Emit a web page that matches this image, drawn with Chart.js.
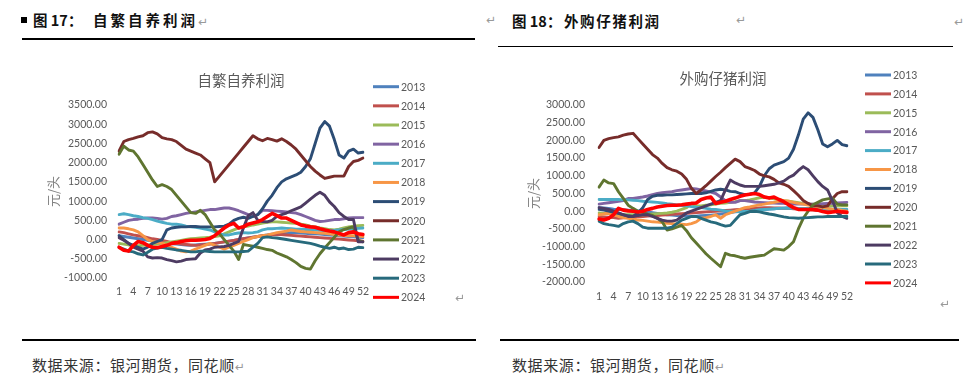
<!DOCTYPE html>
<html>
<head>
<meta charset="utf-8">
<script src="https://cdn.jsdelivr.net/npm/chart.js@4.4.0/dist/chart.umd.min.js"></script>
<style>
  body { margin:0; width:975px; height:389px; background:#fff; position:relative; overflow:hidden;
         font-family:"Noto Sans CJK SC", sans-serif; }
  .abs { position:absolute; white-space:nowrap; line-height:1; }
  .head { font-weight:bold; font-size:14.5px; color:#111; }
  .rule { position:absolute; height:1.5px; background:#000; }
  .mark { color:#999; font-family:"DejaVu Sans", sans-serif; font-size:12px; font-weight:normal; }
  .src { font-size:15px; color:#333; letter-spacing:0.6px; }
  canvas { position:absolute; }
</style>
</head>
<body>
<!-- headings -->
<div class="abs" style="left:21px;top:17px;width:6px;height:6px;background:#000"></div>
<div class="abs head" style="left:33px;top:13px">图 17：</div>
<div class="abs head" style="left:93px;top:13px;letter-spacing:3px">自繁自养利润<span class="mark" style="letter-spacing:0">↵</span></div>
<div class="abs mark" style="left:486px;top:14px">↵</div>
<div class="abs head" style="left:512px;top:14px">图 18：</div>
<div class="abs head" style="left:564px;top:14px;letter-spacing:1.6px">外购仔猪利润</div>
<div class="abs mark" style="left:736px;top:14px">↵</div>
<div class="abs mark" style="left:954px;top:16px">↵</div>
<div class="rule" style="left:22px;top:38px;width:453px"></div>
<div class="rule" style="left:498px;top:45.5px;width:455px"></div>

<canvas id="selfChart" width="440" height="255" style="left:40px;top:55px;width:440px;height:255px"></canvas>
<canvas id="boughtChart" width="450" height="255" style="left:520px;top:55px;width:450px;height:255px"></canvas>

<div class="abs mark" style="left:455px;top:292px">↵</div>
<div class="abs mark" style="left:940px;top:298px">↵</div>
<div class="rule" style="left:22px;top:339px;width:454px"></div>
<div class="rule" style="left:500px;top:339px;width:459px"></div>
<div class="abs src" style="left:32px;top:357px">数据来源：银河期货，同花顺<span class="mark">↵</span></div>
<div class="abs src" style="left:512px;top:357px">数据来源：银河期货，同花顺<span class="mark">↵</span></div>

<script>
// --- DATA ---
const weeks = Array.from({length: 52}, (_, i) => String(i + 1));
const years = ['2013','2014','2015','2016','2017','2018','2019','2020','2021','2022','2023','2024'];

// 自繁自养利润 (元/头)
const self2013 = [100,80,60,40,20,0,-20,-40,-60,-80,
  -100,-110,-120,-130,-140,-150,-140,-130,-120,-110,
  -100,-80,-60,-40,-20,0,20,40,60,80,
  100,120,140,150,160,170,180,180,170,160,
  150,150,140,130,120,110,100,90,80,70,
  60,50];
const self2014 = [200,180,150,120,100,80,50,20,0,-20,
  -50,-80,-100,-120,-130,-140,-150,-140,-130,-120,
  -100,-80,-60,-40,-20,0,20,40,60,80,
  100,110,120,130,130,120,110,100,90,80,
  70,60,50,40,30,20,10,0,-10,-20,
  -30,-40];
const self2015 = [-100,-120,-140,-150,-160,-150,-140,-130,-120,-100,
  -80,-60,-40,-20,0,20,30,40,50,60,
  80,100,150,200,250,300,330,350,380,400,
  430,450,460,460,450,440,430,420,400,380,
  350,330,300,280,260,250,270,300,330,350,
  360,370];
const self2016 = [400,450,500,520,530,550,560,560,550,530,
  550,600,620,650,680,700,720,740,760,780,
  780,800,820,820,790,750,700,650,600,650,
  760,760,750,740,730,720,700,690,650,600,
  550,500,470,480,500,520,520,540,560,570,
  570,570];
const self2017 = [650,670,650,620,600,570,550,520,480,450,
  420,400,400,380,350,330,320,300,270,250,
  200,150,120,120,150,170,180,170,180,200,
  250,280,280,290,300,290,280,270,270,260,
  250,250,240,230,230,240,250,260,270,280,
  290,300];
const self2018 = [300,300,280,250,200,100,0,-50,-80,-100,
  -150,-200,-250,-300,-320,-300,-250,-200,-150,-100,
  -150,-200,-250,-200,-150,-100,-50,0,50,80,
  100,120,150,180,200,220,250,230,210,200,
  190,180,170,160,150,130,120,110,100,100,
  90,80];
const self2019 = [100,0,-100,-150,-200,-250,-200,-100,-50,0,
  250,300,320,330,330,340,340,330,330,330,
  330,340,350,400,500,550,580,550,600,650,
  800,1000,1150,1350,1500,1580,1630,1680,1750,1900,
  2100,2500,2900,3070,2950,2600,2200,2120,2300,2350,
  2250,2270];
const self2020 = [2300,2550,2600,2630,2670,2700,2780,2800,2750,2650,
  2620,2600,2550,2450,2350,2300,2250,2200,2100,2000,
  1500,1650,1800,1950,2100,2250,2400,2550,2700,2620,
  2570,2630,2600,2560,2620,2550,2460,2350,2200,2050,
  1900,1780,1680,1590,1620,1650,1650,1650,1900,2030,
  2060,2120];
const self2021 = [2220,2430,2330,2300,2150,1950,1750,1550,1380,1430,
  1380,1300,1150,1000,850,700,680,760,650,450,
  250,150,0,-150,-300,-520,-130,-150,-170,-200,
  -230,-260,-280,-350,-400,-450,-520,-600,-700,-750,
  -770,-550,-370,-220,-80,60,200,260,300,330,
  -20,-60];
const self2022 = [50,-20,-100,-200,-250,-300,-450,-480,-470,-480,
  -520,-550,-580,-560,-520,-510,-500,-350,-270,-250,
  -200,-190,-180,-150,-100,-50,300,620,700,500,
  470,460,500,600,650,690,750,800,850,950,
  1050,1150,1230,1150,980,860,700,600,520,520,
  -60,-60];
const self2023 = [-200,-250,-300,-320,-370,-400,-330,-250,-220,-200,
  -230,-250,-270,-280,-300,-320,-320,-300,-300,-310,
  -320,-320,-320,-320,-320,-320,-310,-300,-200,-100,
  50,70,50,40,20,0,-20,-40,-60,-80,
  -100,-130,-170,-200,-230,-200,-240,-220,-260,-250,
  -200,-210];
const self2024 = [-200,-280,-300,-150,-50,-80,-150,-200,-210,-180,
  -150,-100,-80,-50,-30,-20,-20,-10,0,30,
  100,200,300,380,420,300,330,400,430,460,
  520,600,680,620,560,560,500,440,380,350,
  330,320,280,250,220,200,160,120,180,200,
  150,130];

// 外购仔猪利润 (元/头)
const bought2013 = [100,90,80,60,50,40,30,20,10,0,
  -20,-40,-60,-80,-100,-110,-120,-130,-140,-150,
  -140,-130,-120,-110,-100,-80,-60,-40,-20,0,
  10,20,30,40,50,60,70,80,90,100,
  90,80,70,60,50,40,30,20,10,0,
  0,0];
const bought2014 = [-150,-160,-170,-180,-200,-190,-180,-170,-160,-150,
  -140,-130,-120,-110,-100,-90,-80,-70,-60,-50,
  -40,-30,-20,-10,0,10,20,30,40,50,
  60,70,80,90,100,100,90,90,80,80,
  70,60,50,40,30,20,10,0,-10,-20,
  -40,-50];
const bought2015 = [-50,-60,-70,-80,-100,-100,-100,-100,-100,-100,
  -90,-80,-70,-60,-50,-30,0,50,100,220,
  150,150,170,180,200,220,230,250,270,300,
  300,320,350,380,400,380,350,330,300,280,
  260,240,220,200,200,180,170,160,150,150,
  150,150];
const bought2016 = [200,220,240,260,280,300,360,360,380,400,
  430,470,500,520,540,550,580,600,620,640,
  630,600,570,540,500,400,300,250,250,300,
  300,280,260,250,240,230,230,220,220,210,
  200,200,200,200,200,200,210,220,220,230,
  240,250];
const bought2017 = [330,330,330,330,330,320,320,310,300,280,
  270,260,250,230,210,200,180,160,150,130,
  110,100,80,60,50,30,10,0,-10,-20,
  -10,0,20,40,50,60,70,80,80,80,
  80,80,80,80,80,70,70,70,60,60,
  50,50];
const bought2018 = [-100,-80,-50,-100,-150,-180,-200,-220,-250,-260,
  -280,-300,-310,-320,-340,-350,-360,-370,-380,-350,
  -300,-200,-180,-150,-100,-200,-100,-50,0,50,
  100,120,150,180,200,230,250,280,300,280,
  250,220,200,170,150,120,100,80,60,50,
  20,0];
const bought2019 = [50,30,0,-30,-60,-100,-130,-150,-50,100,
  330,420,450,450,460,460,470,480,490,500,
  500,500,520,560,600,620,600,560,550,500,
  470,480,520,700,1000,1200,1300,1350,1400,1500,
  1750,2150,2600,2780,2650,2300,1900,1820,1900,2000,
  1880,1850];
const bought2020 = [1800,2000,2050,2080,2100,2150,2180,2200,2050,1900,
  1750,1600,1500,1350,1230,1170,1130,1050,900,650,
  500,600,720,850,980,1100,1230,1350,1470,1400,
  1260,1210,1150,1050,1000,970,900,800,760,700,
  580,450,300,220,150,150,120,150,350,500,
  550,550];
const bought2021 = [680,880,800,780,550,360,170,80,0,-30,
  -80,-120,-200,-300,-530,-500,-450,-400,-550,-750,
  -900,-1050,-1200,-1330,-1450,-1570,-1190,-1240,-1260,-1300,
  -1330,-1300,-1280,-1260,-1240,-1150,-1060,-1080,-1100,-1000,
  -860,-500,-200,0,180,250,320,350,370,200,
  180,180];
const bought2022 = [100,80,50,0,-50,-100,-150,-150,-120,-100,
  -100,-150,-200,-250,-280,-280,-250,-150,-50,0,
  50,100,150,200,250,300,600,880,800,740,
  700,700,700,700,720,740,760,800,850,950,
  1020,1150,1260,1170,1000,835,700,600,300,-40,
  -150,-200];
const bought2023 = [-280,-350,-380,-400,-430,-350,-300,-280,-350,-450,
  -480,-480,-480,-480,-480,-450,-350,-250,-200,-150,
  -150,-200,-250,-300,-330,-380,-420,-400,-250,-100,
  -60,-10,0,-20,-50,-80,-100,-130,-160,-180,
  -190,-200,-190,-180,-170,-160,-160,-150,-150,-150,
  -150,-150];
const bought2024 = [-220,-250,-200,-100,80,30,10,0,-20,0,
  50,80,120,140,160,170,170,180,200,220,
  230,330,370,400,220,250,280,330,370,420,
  460,480,500,470,400,370,400,330,270,180,
  100,50,50,50,50,30,-10,-40,-20,0,
  -20,-30];

const selfSeries = [self2013, self2014, self2015, self2016, self2017, self2018,
  self2019, self2020, self2021, self2022, self2023, self2024];
const boughtSeries = [bought2013, bought2014, bought2015, bought2016, bought2017, bought2018,
  bought2019, bought2020, bought2021, bought2022, bought2023, bought2024];

// Excel default palette, 2024 in pure red
const lineColors = ['#4F81BD','#C0504D','#9BBB59','#8064A2','#4BACC6','#F79646',
  '#2C4D75','#772C2A','#5F7530','#4D3B62','#276A7C','#FF0000'];

const GREY = '#595959';

// Legend drawn by hand on the right side of each canvas
const sideLegend = {
  id: 'sideLegend',
  afterDraw(chart, args, opts) {
    const ctx = chart.ctx;
    ctx.save();
    chart.data.datasets.forEach((ds, i) => {
      const y = opts.y0 + i * opts.step;
      ctx.strokeStyle = ds.borderColor;
      ctx.lineWidth = 3;
      ctx.beginPath();
      ctx.moveTo(opts.x0, y);
      ctx.lineTo(opts.x0 + 26, y);
      ctx.stroke();
      ctx.fillStyle = GREY;
      ctx.font = '10.5px Lato';
      ctx.textBaseline = 'middle';
      ctx.fillText(ds.label, opts.x0 + 28, y + 0.5);
    });
    ctx.restore();
  }
};

function buildChart(id, title, series, yMin, yMax, box) {
  const datasets = series.map((vals, i) => ({
    label: years[i],
    data: vals,
    borderColor: lineColors[i],
    backgroundColor: lineColors[i],
    borderWidth: i === 11 ? 3.6 : 2.9,
    pointRadius: 0,
    tension: 0,
    borderJoinStyle: 'round',
    borderCapStyle: 'round',
    order: 12 - i
  }));

  return new Chart(document.getElementById(id), {
    type: 'line',
    data: { labels: weeks, datasets: datasets },
    plugins: [sideLegend],
    options: {
      responsive: false,
      animation: false,
      devicePixelRatio: 1,
      layout: { padding: { left: 0, right: box.padRight, top: 0, bottom: 0 } },
      plugins: {
        legend: { display: false },
        tooltip: { enabled: false },
        title: {
          display: true,
          text: title,
          color: GREY,
          fullSize: false,
          font: { family: 'Noto Sans CJK SC', size: 14.5, weight: 'normal' },
          padding: { top: box.titleTop, bottom: 50 - box.titleTop - 17.4 }
        },
        sideLegend: { x0: box.legendX, y0: box.legendY, step: box.legendStep }
      },
      scales: {
        x: {
          grid: { display: false, drawTicks: false },
          border: { display: false },
          afterFit: s => { s.height = box.xHeight; },
          ticks: {
            color: GREY,
            font: { family: 'Lato', size: 10.5 },
            padding: box.xPad,
            autoSkip: false,
            maxRotation: 0,
            callback: (val, idx) => (idx % 3 === 0 ? weeks[idx] : '')
          }
        },
        y: {
          min: yMin,
          max: yMax,
          grid: { display: false, drawTicks: false },
          border: { display: false },
          afterFit: s => { s.width = 79; },
          title: {
            display: true,
            text: '元/头',
            color: '#7f7f7f',
            font: { family: 'Noto Sans CJK SC', size: 13 },
            padding: { top: 5, bottom: 0 }
          },
          ticks: {
            color: GREY,
            font: { family: 'Lato', size: 10.5 },
            padding: box.yPad,
            stepSize: 500,
            callback: v => v.toFixed(2)
          }
        }
      }
    }
  });
}

buildChart('selfChart', '自繁自养利润', selfSeries, -1000, 3500,
  { padRight: 117, titleTop: 16.3, xHeight: 32, xPad: 7, yPad: 12,
    legendX: 333, legendY: 31.7, legendStep: 19.15 });

buildChart('boughtChart', '外购仔猪利润', boughtSeries, -2000, 3000,
  { padRight: 123, titleTop: 14.3, xHeight: 28, xPad: 8, yPad: 14,
    legendX: 345, legendY: 20, legendStep: 18.9 });
</script>
</body>
</html>
